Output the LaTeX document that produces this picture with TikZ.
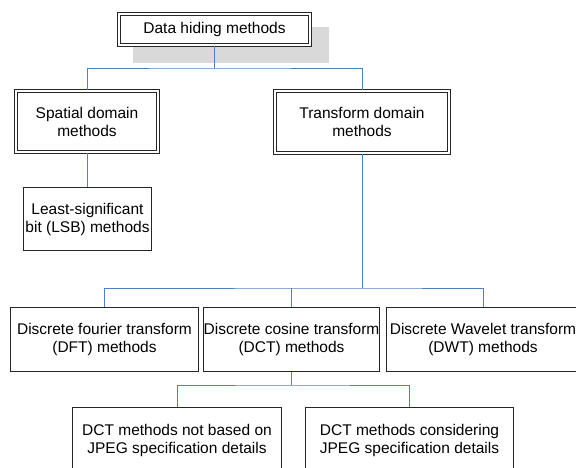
\documentclass[tikz,border=0pt]{standalone}
\usepackage{fontspec}
\setmainfont{Liberation Sans}
\begin{document}
\begin{tikzpicture}[x=1pt,y=-1pt,
  box/.style={draw=black!85, line width=0.9pt, fill=white, inner sep=0pt, align=center,
    font=\fontsize{15.5}{18}\selectfont},
  dbox/.style={box, double=white, double distance=1.8pt, line width=0.9pt},
  conn/.style={draw={rgb,255:red,79;green,129;blue,189}, line width=1pt}]
\useasboundingbox (0,0) rectangle (576,468);
\clip (0,0) rectangle (576,468);
% shadow
\fill[gray!30] (133,27) rectangle (329,63);
% nodes
\node[dbox, minimum width=191.4pt, minimum height=31.4pt] (top) at (214.5,29.5) {Data hiding methods};
\node[dbox, minimum width=142.4pt, minimum height=61.4pt] (spatial) at (87,121.5) {Spatial domain\\methods};
\node[dbox, minimum width=174.4pt, minimum height=62.4pt] (transform) at (362,122) {Transform domain\\methods};
\node[box, minimum width=128pt, minimum height=63pt] (lsb) at (87.5,219) {Least-significant\\bit (LSB) methods};
\node[box, minimum width=188pt, minimum height=64pt] (dft) at (104.5,339.5) {Discrete fourier transform\\(DFT) methods};
\node[box, minimum width=176pt, minimum height=64pt] (dct) at (291.5,339.5) {Discrete cosine transform\\(DCT) methods};
\node[box, minimum width=193pt, minimum height=64pt] (dwt) at (483,339.5) {Discrete Wavelet transform\\(DWT) methods};
\node[box, minimum width=209pt, minimum height=65pt] (bl) at (177,440) {DCT methods not based on\\JPEG specification details};
\node[box, minimum width=208pt, minimum height=65pt] (br) at (409.5,440) {DCT methods considering\\JPEG specification details};
% junctions
\coordinate (j1) at (214.5,69);
\coordinate (j2) at (362,288);
\coordinate (j3) at (291.5,385);
% connectors
\draw[conn] (top.south) -- (j1);
\draw[conn] (spatial.north) |- (j1) -| (transform.north);
\draw[conn] (spatial.south) -- (spatial.south |- lsb.north);
\draw[conn] (transform.south) -- (j2);
\draw[conn] (dft.north) |- (j2) -| (dwt.north);
\draw[conn] (dct.north) -- (dct.north |- j2);
\draw[conn] (dct.south) -- (j3);
\draw[conn] (bl.north) |- (j3) -| (br.north);
\end{tikzpicture}
\end{document}
